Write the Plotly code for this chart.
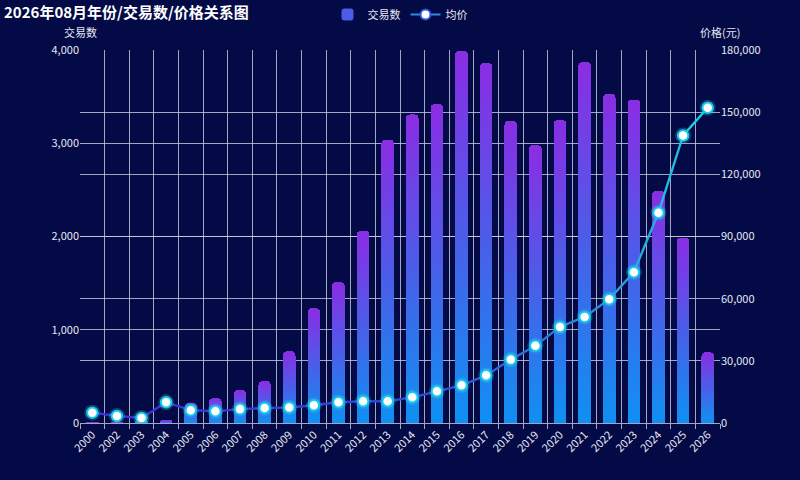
import plotly.graph_objects as go
from plotly.colors import sample_colorscale

years = ["2000", "2002", "2003", "2004", "2005", "2006", "2007", "2008", "2009", "2010",
         "2011", "2012", "2013", "2014", "2015", "2016", "2017", "2018", "2019", "2020",
         "2021", "2022", "2023", "2024", "2025", "2026"]
counts = [5, 3, 50, 25, 210, 265, 350, 450, 770, 1230,
          1510, 2060, 3040, 3310, 3420, 3990, 3860, 3240, 2980, 3250,
          3870, 3530, 3470, 2490, 1990, 760]
prices = [5000, 3400, 2400, 10000, 6200, 5700, 6700, 7200, 7500, 8600,
          10000, 10500, 10500, 12400, 15300, 18200, 23000, 30600, 37300, 46400,
          51200, 59800, 72800, 101500, 138800, 152200]

title_text = "2026年08月年份/交易数/价格关系图"
left_title = "交易数"
right_title = "价格(元)"
bar_name = "交易数"
line_name = "均价"

BG = "#030a45"
GRID = "rgba(200,205,228,0.8)"
FONT = "Noto Sans CJK SC"
bar_scale = [[0, "#0f90f2"], [0.5, "#4a5ee8"], [1, "#8a2de4"]]
line_scale = [[0, "#3a2fd8"], [0.55, "#3148dc"], [0.8, "#2a86dc"], [1, "#1ed6e2"]]

fig = go.Figure()

# gradient bars: stack of thin slices, bottom (blue) -> top (purple)
N = 30
cols = sample_colorscale(bar_scale, [(k + 0.5) / N for k in range(N)])
for k in range(N):
    fig.add_trace(go.Bar(
        x=years, y=[c / N for c in counts], name=bar_name,
        marker=dict(color=cols[k], line=dict(width=0)),
        showlegend=(k == N // 2), legendgroup="bar",
        hoverinfo="skip" if k else None, yaxis="y",
    ))

# gradient line: one segment per pair of consecutive points
n = len(years)
seg_cols = sample_colorscale(line_scale, [(i + 0.5) / (n - 1) for i in range(n - 1)])
for i in range(n - 1):
    fig.add_trace(go.Scatter(
        x=years[i:i + 2], y=prices[i:i + 2], mode="lines",
        line=dict(color=seg_cols[i], width=2.4), yaxis="y2",
        showlegend=False, hoverinfo="skip",
    ))

# marker glow + markers
fig.add_trace(go.Scatter(
    x=years, y=prices, mode="markers", yaxis="y2", showlegend=False, hoverinfo="skip",
    marker=dict(size=16, color="rgba(30,200,235,0.28)", line=dict(width=0)),
))
fig.add_trace(go.Scatter(
    x=years, y=prices, mode="markers", yaxis="y2", showlegend=False, name=line_name,
    marker=dict(size=10.5, color="white", line=dict(color="#19c9e8", width=2)),
))
# legend entry for the price line
fig.add_trace(go.Scatter(
    x=[None], y=[None], mode="lines+markers", name=line_name, yaxis="y2",
    line=dict(color="#2f8ae0", width=2),
    marker=dict(size=10, color="white", line=dict(color="#2a55e0", width=2)),
))

fig.update_layout(
    width=800, height=480,
    paper_bgcolor=BG, plot_bgcolor=BG,
    margin=dict(l=80, r=80, t=47, b=57),
    barmode="stack", bargap=0.49, barcornerradius=4,
    font=dict(family=FONT, color="#e6e8f2", size=11),
    title=dict(text="<b>" + title_text + "</b>", x=0.005, xanchor="left", y=0.985, yanchor="top",
               font=dict(size=15, color="white", family=FONT)),
    legend=dict(orientation="h", x=0.5, xanchor="center", y=1.0, yanchor="top",
                yref="container", font=dict(size=11, color="#e6e8f2"),
                bgcolor="rgba(0,0,0,0)", itemwidth=30, tracegroupgap=0),
    xaxis=dict(type="category", tickson="boundaries", showgrid=True, gridcolor=GRID, gridwidth=1,
               ticks="outside", ticklen=5, tickcolor=GRID, tickangle=-45,
               showline=True, linecolor=GRID, linewidth=1, zeroline=False,
               tickfont=dict(size=11, color="#e6e8f2"), range=[-0.5, n - 0.5]),
    yaxis=dict(range=[0, 4000], dtick=1000, tickformat=",", showgrid=True, gridcolor=GRID,
               gridwidth=1, zeroline=False, showline=False, ticks="",
               tickfont=dict(size=11, color="#e6e8f2")),
    yaxis2=dict(range=[0, 180000], dtick=30000, tickformat=",", overlaying="y", side="right",
                showgrid=True, gridcolor=GRID, gridwidth=1, zeroline=False, showline=False,
                ticks="", tickfont=dict(size=11, color="#e6e8f2")),
    annotations=[
        dict(text=left_title, xref="paper", yref="paper", x=0.0, y=1.022, xanchor="center",
             yanchor="bottom", showarrow=False, font=dict(size=11, color="#e6e8f2")),
        dict(text=right_title, xref="paper", yref="paper", x=1.0, y=1.022, xanchor="center",
             yanchor="bottom", showarrow=False, font=dict(size=11, color="#e6e8f2")),
    ],
)

fig.write_html("out.html", config={"displayModeBar": False},
               post_script="document.body.style.margin='0';document.body.style.background='%s';" % BG)
